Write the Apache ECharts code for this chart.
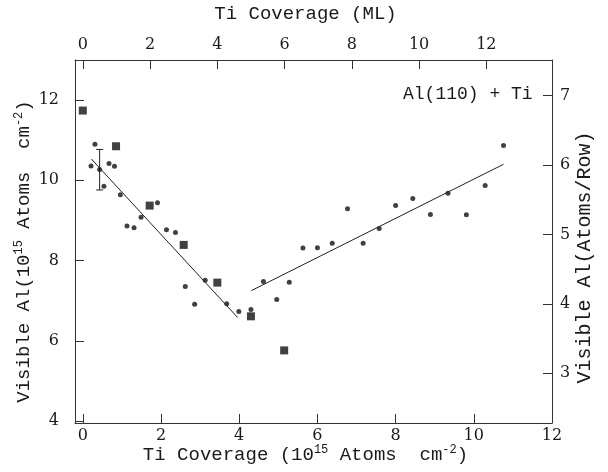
<!DOCTYPE html>
<html>
<head>
<meta charset="utf-8">
<script src="https://cdn.jsdelivr.net/npm/echarts@6/dist/echarts.min.js"></script>
<style>html,body{margin:0;padding:0;background:#fff}#c{width:608px;height:472px}</style>
</head>
<body>
<div id="c"></div>
<script>
// ---- data (Ti coverage in 1e15 atoms/cm2, visible Al in 1e15 atoms/cm2) ----
var dotX = [0.21,0.31,0.43,0.54,0.67,0.81,0.96,1.13,1.31,1.49,1.91,2.14,2.37,2.62,2.86,3.13,3.68,3.99,4.30,4.62,4.96,5.28,5.63,6.00,6.38,6.77,7.17,7.58,8.00,8.44,8.89,9.34,9.81,10.29,10.76];
var dotY = [10.36,10.90,10.27,9.85,10.42,10.35,9.64,8.86,8.82,9.08,9.44,8.77,8.70,7.35,6.91,7.51,6.92,6.73,6.78,7.48,7.03,7.46,8.31,8.32,8.43,9.29,8.43,8.80,9.37,9.55,9.15,9.68,9.14,9.87,10.87];
var squareX = [0.0,0.85,1.71,2.58,3.44,4.30,5.15];
var squareY = [11.74,10.85,9.37,8.39,7.45,6.61,5.76];
var fit1X = [0.22,3.96];
var fit1Y = [10.53,6.58];
var fit2X = [4.31,10.76];
var fit2Y = [7.25,10.40];
var errX = [0.43];
var errLow = [9.76];
var errHigh = [10.77];
var bottomTicks = [0,2,4,6,8,10,12];
var topTicks = [0,2,4,6,8,10,12];
var leftTicks = [4,6,8,10,12];
var rightTicks = [3,4,5,6,7];
var annotation = 'Al(110) + Ti';

// unit conversions used for the secondary axes
var mlPerUnit = 1/0.86;      // ML per 1e15 atoms/cm2
var rowPerUnit = 1/1.73;     // atoms/row per 1e15 atoms/cm2

function zip(a,b){return a.map(function(v,i){return [v,b[i]];});}

var xMin=-0.2, xMax=12, yMin=3.95, yMax=13;
var TFONT='Liberation Mono';
var FONT='DejaVu Serif';
var ink='#1a1a1a';
function nameStyle(size,pad){
  return {fontFamily:TFONT,fontSize:size,lineHeight:22,color:ink,padding:pad,
    rich:{s:{fontFamily:TFONT,fontSize:12,lineHeight:12,verticalAlign:'top',color:ink}}};
}
var chart = echarts.init(document.getElementById('c'));
chart.setOption({
  animation:false,
  backgroundColor:'#fff',
  grid:{left:75,right:56,top:60,bottom:49,outerBoundsMode:'none',containLabel:false},
  title:{text:annotation,left:398,top:80,textStyle:{fontFamily:TFONT,fontSize:18,fontWeight:'normal',color:ink}},
  xAxis:[{
    type:'value',position:'bottom',min:xMin,max:xMax,
    name:'Ti Coverage (10{s|15} Atoms  cm{s|-2})',nameLocation:'middle',nameGap:21,nameMoveOverlap:false,
    nameTextStyle:nameStyle(19,[0,16,0,0]),
    axisLine:{onZero:false,lineStyle:{color:'#333',width:1}},
    axisTick:{inside:true,length:9,customValues:bottomTicks,lineStyle:{color:'#333'}},
    axisLabel:{customValues:bottomTicks,margin:5,fontFamily:FONT,fontSize:16,color:ink},
    splitLine:{show:false}
  },{
    type:'value',position:'top',min:xMin*mlPerUnit,max:xMax*mlPerUnit,
    name:'Ti Coverage (ML)',nameLocation:'middle',nameGap:35,nameMoveOverlap:false,
    nameTextStyle:nameStyle(19,[0,16,0,0]),
    axisLine:{onZero:false,lineStyle:{color:'#333',width:1}},
    axisTick:{inside:true,length:9,customValues:topTicks,lineStyle:{color:'#333'}},
    axisLabel:{customValues:topTicks,margin:7,fontFamily:FONT,fontSize:16,color:ink},
    splitLine:{show:false}
  }],
  yAxis:[{
    type:'value',position:'left',min:yMin,max:yMax,
    name:'Visible Al(10{s|15} Atoms  cm{s|-2})',nameLocation:'middle',nameGap:40,nameRotate:90,nameMoveOverlap:false,
    nameTextStyle:nameStyle(19,[0,20,0,0]),
    axisLine:{onZero:false,lineStyle:{color:'#333',width:1}},
    axisTick:{inside:true,length:9,customValues:leftTicks,lineStyle:{color:'#333'}},
    axisLabel:{customValues:leftTicks,margin:16,fontFamily:FONT,fontSize:16,color:ink},
    splitLine:{show:false}
  },{
    type:'value',position:'right',min:yMin*rowPerUnit,max:yMax*rowPerUnit,
    name:'Visible Al(Atoms/Row)',nameLocation:'middle',nameGap:22,nameRotate:90,nameMoveOverlap:false,
    nameTextStyle:nameStyle(20,[0,32,0,0]),
    axisLine:{onZero:false,lineStyle:{color:'#333',width:1}},
    axisTick:{inside:true,length:9,customValues:rightTicks,lineStyle:{color:'#333'}},
    axisLabel:{customValues:rightTicks,margin:8,fontFamily:FONT,fontSize:16,color:ink},
    splitLine:{show:false}
  }],
  series:[
    {type:'line',data:zip(fit1X,fit1Y),symbol:'none',lineStyle:{color:'#222',width:1},silent:true},
    {type:'line',data:zip(fit2X,fit2Y),symbol:'none',lineStyle:{color:'#222',width:1},silent:true},
    {type:'custom',data:errX.map(function(x,i){return [x,errLow[i],errHigh[i]];}),
      renderItem:function(params,api){
        var lo=api.coord([api.value(0),api.value(1)]);
        var hi=api.coord([api.value(0),api.value(2)]);
        var w=3.5;
        var st={stroke:'#222',lineWidth:1};
        return {type:'group',children:[
          {type:'line',shape:{x1:lo[0],y1:lo[1],x2:hi[0],y2:hi[1]},style:st},
          {type:'line',shape:{x1:lo[0]-w,y1:lo[1],x2:lo[0]+w,y2:lo[1]},style:st},
          {type:'line',shape:{x1:hi[0]-w,y1:hi[1],x2:hi[0]+w,y2:hi[1]},style:st}
        ]};
      }},
    {type:'scatter',data:zip(dotX,dotY),symbol:'circle',symbolSize:5,itemStyle:{color:'#111'}},
    {type:'scatter',data:zip(squareX,squareY),symbol:'rect',symbolSize:8,itemStyle:{color:'#111'}}
  ]
});
</script>
</body>
</html>
